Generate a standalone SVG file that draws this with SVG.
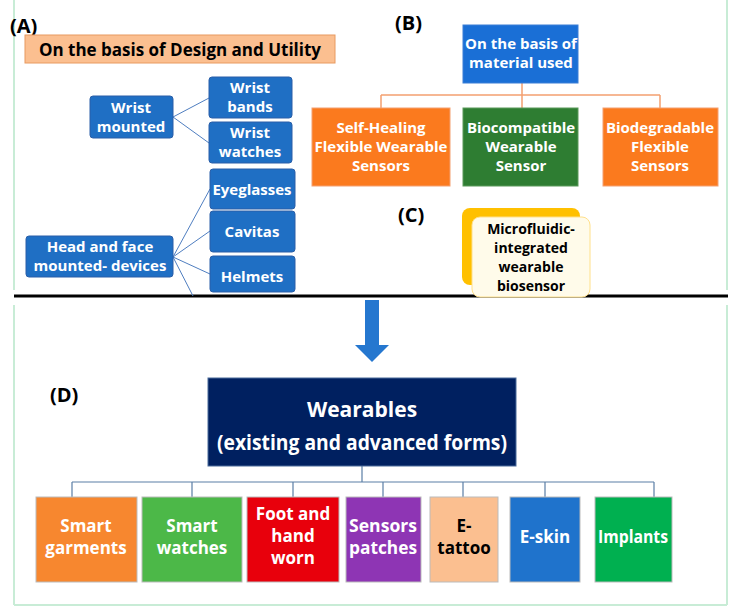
<svg xmlns="http://www.w3.org/2000/svg" width="734" height="614" viewBox="0 0 734 614">
<style>
text{font-family:"Open Sans","DejaVu Sans",sans-serif;font-weight:bold;text-anchor:middle}
.w{fill:#fff;font-size:15px}
.lbl{fill:#000;font-size:20px;text-anchor:start}
.blue{fill:#1f6fc4;stroke:#2a5fa8;stroke-width:1}
.bl{stroke:#4f7ec0;stroke-width:1;fill:none}
.or{stroke:#f4a070;stroke-width:1.5;fill:none}
.d{stroke:#5a7ea6;stroke-width:1.2;fill:none}
.s{font-size:17px;fill:#fff}
.k{fill:#000}
</style>
<rect width="734" height="614" fill="#fff"/>
<g id="frame" stroke="#c8ecd6" stroke-width="2" fill="none">
<line x1="14" y1="0" x2="14" y2="290"/><line x1="727" y1="0" x2="727" y2="290"/>
<line x1="14" y1="305" x2="14" y2="605"/><line x1="727" y1="305" x2="727" y2="605"/>
<line x1="14" y1="605" x2="727" y2="605"/>
</g>
<line x1="14" y1="296" x2="728" y2="296" stroke="#000" stroke-width="3"/>
<g id="connectors">
<path class="bl" d="M173 117L209 98M173 117L209 143M173 257L210 189M173 257L210 231M173 257L210 274M173 257L193 296"/>
<path class="or" d="M522 83V95M381 95H660M381 95V108M522 95V108M660 95V108"/>
<path class="d" d="M362 466V482M72 482H654M72 482V497M192 482V497M293 482V497M383 482V497M463 482V497M545 482V497M654 482V497"/>
<path d="M365 300H379V345H389L372 362L355 345H365Z" fill="#2577cf"/>
</g>
<text class="lbl" x="10" y="33">(A)</text>
<g id="banner"><rect x="25" y="35" width="310" height="28" fill="#fbbf90" stroke="#e89a60"/><text x="180" y="56" font-size="17px" fill="#000">On the basis of Design and Utility</text></g>
<g id="wrist"><rect class="blue" x="90" y="96" width="83" height="42" rx="3"/><text class="w" x="131" y="113">Wrist</text><text class="w" x="131" y="132">mounted</text></g>
<g id="wbands"><rect class="blue" x="209" y="77" width="83" height="41" rx="3"/><text class="w" x="250" y="93">Wrist</text><text class="w" x="250" y="112">bands</text></g>
<g id="wwatches"><rect class="blue" x="209" y="122" width="83" height="41" rx="3"/><text class="w" x="250" y="138">Wrist</text><text class="w" x="250" y="157">watches</text></g>
<g id="eye"><rect class="blue" x="210" y="169" width="85" height="40" rx="3"/><text class="w" x="252" y="195">Eyeglasses</text></g>
<g id="cav"><rect class="blue" x="210" y="211" width="85" height="41" rx="3"/><text class="w" x="252" y="237">Cavitas</text></g>
<g id="helm"><rect class="blue" x="210" y="256" width="85" height="36" rx="3"/><text class="w" x="252" y="282">Helmets</text></g>
<g id="head"><rect class="blue" x="26" y="236" width="147" height="41" rx="3"/><text class="w" x="100" y="252">Head and face</text><text class="w" x="100" y="271">mounted- devices</text></g>
<text class="lbl" x="395" y="30">(B)</text>
<g id="mat"><rect x="463" y="25" width="115" height="58" fill="#1a6fd6" stroke="#3b7fd6"/><text class="w" x="521" y="49">On the basis of</text><text class="w" x="521" y="68">material used</text></g>
<g id="self"><rect x="312" y="108" width="138" height="78" fill="#fb7a1e" stroke="#f4a070"/><text class="w" x="381" y="133">Self-Healing</text><text class="w" x="381" y="152">Flexible Wearable</text><text class="w" x="381" y="171">Sensors</text></g>
<g id="bioc"><rect x="463" y="108" width="115" height="78" fill="#2e7d32" stroke="#5a9a5a"/><text class="w" x="521" y="133">Biocompatible</text><text class="w" x="521" y="152">Wearable</text><text class="w" x="521" y="171">Sensor</text></g>
<g id="biod"><rect x="603" y="108" width="115" height="78" fill="#fb7a1e" stroke="#f4a070"/><text class="w" x="660" y="133">Biodegradable</text><text class="w" x="660" y="152">Flexible</text><text class="w" x="660" y="171">Sensors</text></g>
<text class="lbl" x="398" y="222">(C)</text>
<g id="micro"><rect x="462" y="208" width="118" height="77" rx="8" fill="#ffc000"/><rect x="472" y="217" width="118" height="80" rx="8" fill="#fffbea" stroke="#ffe08a"/><text x="531" y="234" font-size="14px" fill="#000">Microfluidic-</text><text x="531" y="253" font-size="14px" fill="#000">integrated</text><text x="531" y="272" font-size="14px" fill="#000">wearable</text><text x="531" y="291" font-size="14px" fill="#000">biosensor</text></g>
<text class="lbl" x="50" y="402" font-size="22px">(D)</text>
<g id="wear"><rect x="208" y="378" width="308" height="88" fill="#002060" stroke="#4a6a9a"/><text x="362" y="417" font-size="21px" fill="#fff">Wearables</text><text x="362" y="450" font-size="21px" fill="#fff" textLength="290" lengthAdjust="spacingAndGlyphs">(existing and advanced forms)</text></g>
<g id="d1"><rect x="36" y="497" width="101" height="85" fill="#f7872f" stroke="#bbb"/><text class="s" x="86" y="532">Smart</text><text class="s" x="86" y="554">garments</text></g>
<g id="d2"><rect x="142" y="497" width="100" height="85" fill="#4cb848" stroke="#bbb"/><text class="s" x="192" y="532">Smart</text><text class="s" x="192" y="554">watches</text></g>
<g id="d3"><rect x="247" y="497" width="92" height="85" fill="#e8000c" stroke="#bbb"/><text class="s" x="293" y="520">Foot and</text><text class="s" x="293" y="542">hand</text><text class="s" x="293" y="564">worn</text></g>
<g id="d4"><rect x="346" y="497" width="75" height="85" fill="#8e35b4" stroke="#bbb"/><text class="s" x="383" y="532" textLength="68" lengthAdjust="spacingAndGlyphs">Sensors</text><text class="s" x="383" y="554" textLength="68" lengthAdjust="spacingAndGlyphs">patches</text></g>
<g id="d5"><rect x="430" y="497" width="68" height="85" fill="#fbbf90" stroke="#bbb"/><text class="s k" x="464" y="532">E-</text><text class="s k" x="464" y="554">tattoo</text></g>
<g id="d6"><rect x="510" y="497" width="70" height="85" fill="#1f73cc" stroke="#bbb"/><text class="s" x="545" y="543">E-skin</text></g>
<g id="d7"><rect x="595" y="497" width="77" height="85" fill="#00b050" stroke="#bbb"/><text class="s" x="633" y="543" textLength="70" lengthAdjust="spacingAndGlyphs">Implants</text></g>
</svg>
